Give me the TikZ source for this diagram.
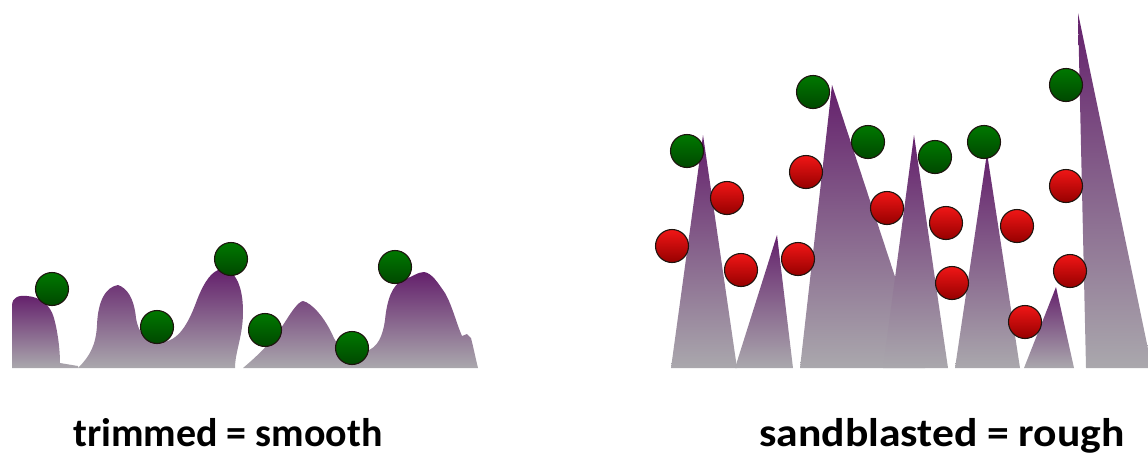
\documentclass[tikz,border=0pt]{standalone}
\usepackage{fontspec}
\setmainfont{Carlito}
\definecolor{spurple}{RGB}{100,32,108}
\definecolor{smid}{RGB}{138,110,145}
\definecolor{sgray}{RGB}{170,168,173}
\definecolor{gtop}{RGB}{0,120,0}
\definecolor{gbot}{RGB}{0,72,0}
\definecolor{rtop}{RGB}{240,22,22}
\definecolor{rbot}{RGB}{150,0,0}
\definecolor{rim}{RGB}{30,20,15}
\tikzset{
  relief/.style={top color=spurple, middle color=smid, bottom color=sgray, draw=none},
  ball/.style={circle, minimum size=33pt, inner sep=0pt, draw=rim, line width=1.1pt},
  gball/.style={ball, top color=gtop, bottom color=gbot},
  rball/.style={ball, top color=rtop, bottom color=rbot},
  caption/.style={font=\bfseries\fontsize{40}{42}\selectfont, anchor=base, inner sep=0pt}
}
\begin{document}
\begin{tikzpicture}[x=1pt,y=-1pt]
\useasboundingbox (0,0) rectangle (1148,453);

% ---- smooth surface (trimmed) ----
\shade[relief] (12,368) -- (12,306)
  .. controls (12,297) and (19,295) .. (27,296)
  .. controls (40,297) and (50,304) .. (54,318)
  .. controls (58,333) and (60,350) .. (60,363)
  -- (78,366) -- (78,368) -- cycle;
\shade[relief] (78,368)
  .. controls (90,356) and (96,345) .. (97,325)
  .. controls (98,300) and (106,287) .. (118,285)
  .. controls (127,288) and (134,298) .. (136,318)
  .. controls (139,336) and (148,342) .. (162,342)
  .. controls (178,341) and (188,325) .. (197,300)
  .. controls (204,282) and (212,270) .. (222,269)
  .. controls (236,270) and (243,287) .. (243,312)
  .. controls (243,336) and (235,352) .. (235,368) -- cycle;
\shade[relief] (243,368)
  .. controls (262,352) and (275,338) .. (285,322)
  .. controls (292,311) and (298,302) .. (303,301)
  .. controls (312,303) and (325,318) .. (333,336)
  .. controls (339,350) and (352,355) .. (366,351)
  .. controls (378,348) and (383,335) .. (385,320)
  .. controls (387,300) and (392,285) .. (403,280)
  .. controls (412,277) and (418,272) .. (424,272)
  .. controls (432,273) and (438,283) .. (445,293)
  .. controls (452,305) and (457,325) .. (462,336)
  -- (467,334) -- (471,338)
  .. controls (474,350) and (476,360) .. (478,368) -- cycle;

% ---- rough surface (sandblasted) ----
\shade[relief] (703,135) -- (737,368) -- (671,368) -- cycle;
\shade[relief] (777,235) -- (793,368) -- (735,368) -- cycle;
\shade[relief] (832,85) -- (925,368) -- (800,368) -- cycle;
\shade[relief] (914,135) -- (948,368) -- (883,368) -- cycle;
\shade[relief] (987,153) -- (1020,368) -- (955,368) -- cycle;
\shade[relief] (1056,287) -- (1074,368) -- (1024,368) -- cycle;
\shade[relief] (1078,13) -- (1152,368) -- (1086,368) -- cycle;

% ---- particles on the smooth surface ----
\node[gball] (s1) at (52,289) {};
\node[gball] (s2) at (157,327) {};
\node[gball] (s3) at (231,259) {};
\node[gball] (s4) at (265,330) {};
\node[gball] (s5) at (352,348) {};
\node[gball] (s6) at (395,267) {};

% ---- particles on the rough surface ----
\node[gball] (g1) at (687,151) {};
\node[gball] (g2) at (813,92) {};
\node[gball] (g3) at (868,142) {};
\node[gball] (g4) at (935,157) {};
\node[gball] (g5) at (984,142) {};
\node[gball] (g6) at (1066,85) {};
\node[rball] (r1) at (727,198) {};
\node[rball] (r2) at (672,246) {};
\node[rball] (r3) at (741,270) {};
\node[rball] (r4) at (806,172) {};
\node[rball] (r5) at (798,259) {};
\node[rball] (r6) at (887,208) {};
\node[rball] (r7) at (946,223) {};
\node[rball] (r8) at (952,283) {};
\node[rball] (r9) at (1017,226) {};
\node[rball] (r10) at (1025,322) {};
\node[rball] (r11) at (1066,186) {};
\node[rball] (r12) at (1070,271) {};

% ---- captions ----
\node[caption] (capL) at (228,446) {trimmed = smooth};
\node[caption, xscale=1.09, transform shape] (capR) at (942,446) {sandblasted = rough};
\end{tikzpicture}
\end{document}
